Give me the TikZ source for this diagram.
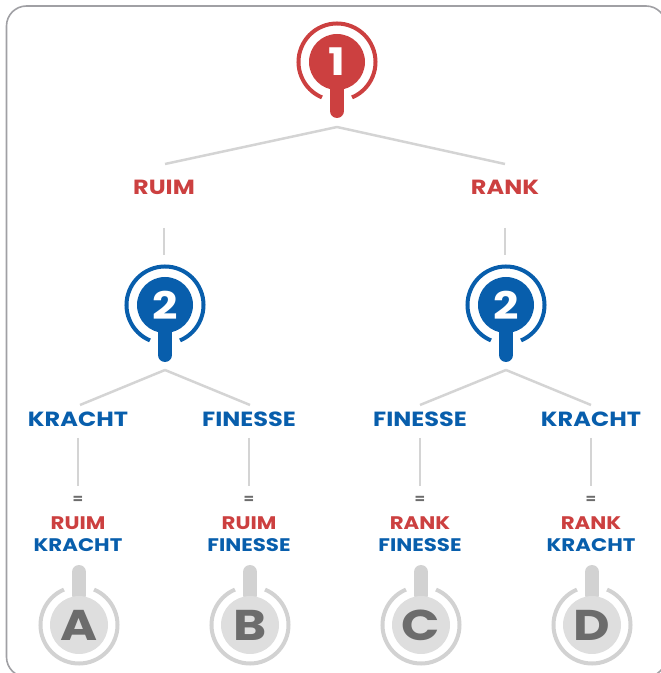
\documentclass[tikz,border=0pt]{standalone}
\usepackage{fontspec}
\setmainfont{Poppins}[FakeStretch=1.17]
\definecolor{cred}{RGB}{204,64,64}
\definecolor{cblue}{RGB}{8,94,172}
\definecolor{cline}{RGB}{212,212,212}
\definecolor{cborder}{RGB}{160,160,164}
\definecolor{gdisc}{RGB}{222,222,222}
\definecolor{gring}{RGB}{210,210,210}
\definecolor{gtext}{RGB}{108,108,108}
\tikzset{
  conn/.style={draw=cline, line width=2.5pt},
  disc/.style={circle, minimum size=56pt, inner sep=0pt, text=white, font=\bfseries\fontsize{38}{38}\selectfont},
  gdiscst/.style={circle, minimum size=58pt, inner sep=0pt, fill=gdisc, text=gtext, font=\bfseries\fontsize{43}{43}\selectfont},
  lab/.style={font=\bfseries\fontsize{20.5}{22}\selectfont, inner sep=0pt},
  sublab/.style={font=\bfseries\fontsize{18.2}{22}\selectfont, inner sep=0pt},
  eqlab/.style={font=\bfseries\fontsize{13}{13}\selectfont, text=gtext, inner sep=0pt},
}
\begin{document}
\begin{tikzpicture}[x=1pt,y=1pt]
\useasboundingbox (0,0) rectangle (661,673);
\clip (0,0) rectangle (661,673);
\draw[cborder, line width=1.6pt, rounded corners=20pt] (6.5,667) rectangle (666,-4);

% top icon
\coordinate (c1) at (337,611);
\draw[cred, line width=14pt, line cap=round] (c1) -- (337,562) coordinate (n1b);
\node[disc, fill=cred] (n1) at (c1) {1};
\draw[cred, line width=4pt] ([shift={(-67:38.5)}]n1.center) arc[start angle=-67, end angle=247, radius=38.5];
\coordinate (a1) at (337,546);

% level 1 labels
\node[lab, text=cred] (ruim) at (164,486) {RUIM};
\node[lab, text=cred] (rank) at (505,486) {RANK};
\draw[conn] (a1) -- (165,509);
\draw[conn] (a1) -- (505,509);
\draw[conn] (164,445) -- (164,418);
\draw[conn] (505,445) -- (505,418);

% level 2 icons
\foreach \nm/\xx in {n2l/165, n2r/506}{
  \draw[cblue, line width=14pt, line cap=round] (\xx,368) -- (\xx,318);
  \node[disc, fill=cblue] (\nm) at (\xx,368) {2};
  \draw[cblue, line width=4pt] ([shift={(-67:38.5)}]\nm.center) arc[start angle=-67, end angle=247, radius=38.5];
}
\coordinate (a2l) at (165,303);
\coordinate (a2r) at (506,303);

% level 2 labels
\node[lab, text=cblue] (k1) at (78,254) {KRACHT};
\node[lab, text=cblue] (f1) at (249,254) {FINESSE};
\node[lab, text=cblue] (f2) at (420,254) {FINESSE};
\node[lab, text=cblue] (k2) at (591,254) {KRACHT};
\draw[conn] (a2l) -- (80,268);
\draw[conn] (a2l) -- (250,268);
\draw[conn] (a2r) -- (420,268);
\draw[conn] (a2r) -- (591,268);

% results
\foreach \nm/\xx/\ta/\tb/\tl in {ra/78/RUIM/KRACHT/A, rb/249/RUIM/FINESSE/B, rc/420/RANK/FINESSE/C, rd/591/RANK/KRACHT/D}{
  \draw[conn] (\xx,235) -- (\xx,187);
  \node[eqlab] (\nm e) at (\xx,173) {=};
  \node[sublab, text=cred] (\nm t) at (\xx,150) {\ta};
  \node[sublab, text=cblue] (\nm b) at (\xx,128) {\tb};
  \draw[gring, line width=14pt, line cap=round] (\xx+1,78) -- (\xx+1,101);
  \node[gdiscst] (\nm i) at (\xx+1,48) {\tl};
  \draw[gring, line width=4pt] ([shift={(113:38.5)}]\nm i.center) arc[start angle=113, end angle=427, radius=38.5];
}
\end{tikzpicture}
\end{document}
